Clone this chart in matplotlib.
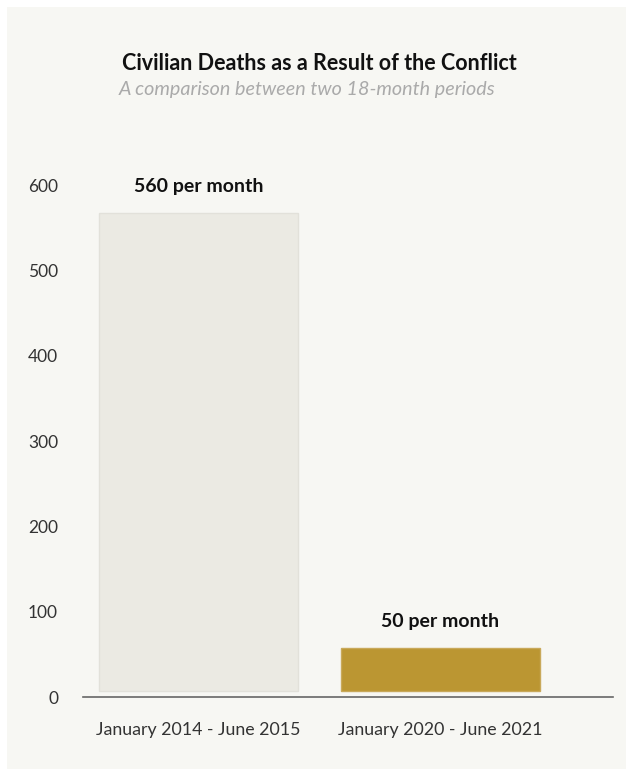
import matplotlib.pyplot as plt
import matplotlib.patches as mpatches

periods = ['January 2014 - June 2015', 'January 2020 - June 2021']
deaths_per_month = [560, 50]
bar_labels = ['560 per month', '50 per month']
y_ticks = [0, 100, 200, 300, 400, 500, 600]

plt.rcParams['font.family'] = ['Lato', 'DejaVu Sans']

bg = '#f7f7f3'
bar_colors = ['#ebeae3', '#bb9632']
edge_colors = ['#e2e1da', '#c9a95a']

fig = plt.figure(figsize=(6.33, 7.76), dpi=100)
fig.patch.set_facecolor('white')
# inner panel with thin white border
fig.patches.append(mpatches.Rectangle((7 / 633, 7 / 776), 619 / 633, 762 / 776,
                                      transform=fig.transFigure, facecolor=bg,
                                      edgecolor='none', zorder=-5))

ax = fig.add_axes([83 / 633, 79 / 776, 530 / 633, 563 / 776])
ax.set_facecolor('none')

x = list(range(len(periods)))
bars = ax.bar(x, deaths_per_month, width=0.824, bottom=7,
              color=bar_colors, edgecolor=edge_colors, linewidth=1, zorder=2)

for rect, lab in zip(bars, bar_labels):
    ax.annotate(lab, (rect.get_x() + rect.get_width() / 2, rect.get_y() + rect.get_height()),
                xytext=(0, 19), textcoords='offset points', ha='center', va='center',
                fontsize=14, fontweight='bold', color='#111111')

ax.set_xlim(-0.478, 1.716)
ax.set_ylim(0, 660)
ax.set_yticks(y_ticks)
ax.set_yticklabels([str(v) for v in y_ticks])
ax.set_xticks(x)
ax.set_xticklabels(periods)

for s in ['top', 'right', 'left']:
    ax.spines[s].set_visible(False)
ax.spines['bottom'].set_color('#666666')
ax.spines['bottom'].set_linewidth(1.2)
ax.tick_params(axis='y', length=0, pad=18, labelsize=12.5, labelcolor='#333333')
ax.tick_params(axis='x', length=0, pad=18, labelsize=12.8, labelcolor='#333333')

fig.text(319 / 633, 1 - 64 / 776, 'Civilian Deaths as a Result of the Conflict',
         ha='center', va='center', fontsize=15.5, fontweight='bold', color='#111111')
fig.text(307 / 633, 1 - 89 / 776, 'A comparison between two 18-month periods',
         ha='center', va='center', fontsize=14.2, style='italic', color='#aaaaaa')

plt.savefig('out.png', dpi=100, facecolor=fig.get_facecolor())
